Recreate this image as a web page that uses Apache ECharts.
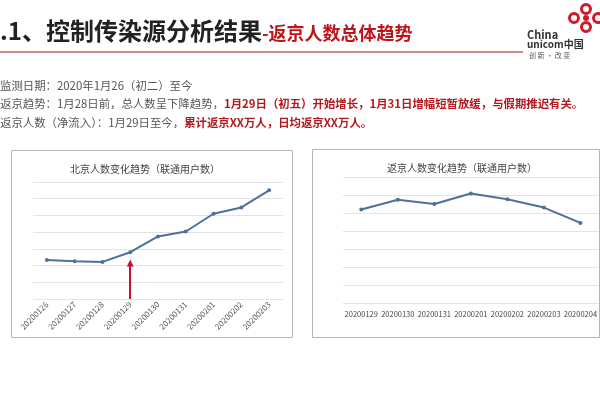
<!DOCTYPE html>
<html><head><meta charset="utf-8">
<script src="https://cdn.jsdelivr.net/npm/echarts@6/dist/echarts.min.js"></script>
<style>html,body{margin:0;padding:0;background:#fff}#c{width:600px;height:400px}</style>
</head><body><div id="c"></div>
<script>
const bjCats = ['20200126','20200127','20200128','20200129','20200130','20200131','20200201','20200202','20200203'];
const bjValues = [2.34, 2.26, 2.22, 2.8, 3.74, 4.04, 5.1, 5.48, 6.5];
const fjCats = ['20200129','20200130','20200131','20200201','20200202','20200203','20200204'];
const fjValues = [5.19, 5.74, 5.5, 6.08, 5.76, 5.3, 4.45];
const leftTitle = '北京人数变化趋势（联通用户数）';
const rightTitle = '返京人数变化趋势（联通用户数）';

const FONT = '"Noto Sans CJK SC", "Noto Sans", sans-serif';
const lineColor = '#4f7098';
const chart = echarts.init(document.getElementById('c'));

const txt = (x, y, text, rich, extra) => Object.assign({
  type: 'text', x: x, y: y,
  style: { text: text, rich: rich, fontFamily: FONT, verticalAlign: 'middle' }
}, extra || {});

const bodyRich = {
  g: { fontSize: 11.4, fill: '#555', fontFamily: FONT },
  r: { fontSize: 11.4, fill: '#b3191c', fontWeight: 'bold', fontFamily: FONT }
};

chart.setOption({
  backgroundColor: '#fff',
  animation: false,
  title: [
    { text: leftTitle, left: 140, top: 159, textAlign: 'center',
      textStyle: { fontSize: 10, fontWeight: 'normal', color: '#444', fontFamily: FONT } },
    { text: rightTitle, left: 457, top: 158, textAlign: 'center',
      textStyle: { fontSize: 10, fontWeight: 'normal', color: '#444', fontFamily: FONT } }
  ],
  grid: [
    { left: 33, right: 317, top: 182, bottom: 101 },
    { left: 343, right: 0, top: 177, bottom: 97 }
  ],
  xAxis: [
    { type: 'category', gridIndex: 0, data: bjCats, boundaryGap: true,
      axisLine: { show: false }, axisTick: { show: false },
      axisLabel: { rotate: 45, fontSize: 8, color: '#555', margin: 4, fontFamily: FONT, interval: 0 } },
    { type: 'category', gridIndex: 1, data: fjCats, boundaryGap: true,
      axisLine: { show: false }, axisTick: { show: false },
      axisLabel: { fontSize: 7.5, color: '#444', margin: 7, fontFamily: FONT, interval: 0 } }
  ],
  yAxis: [
    { type: 'value', gridIndex: 0, min: 0, max: 7, interval: 1,
      axisLabel: { show: false }, axisLine: { show: false }, axisTick: { show: false },
      splitLine: { lineStyle: { color: '#e3e3e3', width: 1 } } },
    { type: 'value', gridIndex: 1, min: 0, max: 7, interval: 1,
      axisLabel: { show: false }, axisLine: { show: false }, axisTick: { show: false },
      splitLine: { lineStyle: { color: '#e3e3e3', width: 1 } } }
  ],
  series: [
    { type: 'line', xAxisIndex: 0, yAxisIndex: 0, data: bjValues,
      symbol: 'circle', symbolSize: 4, lineStyle: { color: lineColor, width: 2 },
      itemStyle: { color: lineColor },
      markLine: {
        silent: true, symbol: ['none', 'triangle'], symbolSize: 7, label: { show: false },
        lineStyle: { color: '#c8102e', width: 2, type: 'solid' },
        data: [[{ coord: ['20200129', 0] }, { coord: ['20200129', 2.15] }]]
      } },
    { type: 'line', xAxisIndex: 1, yAxisIndex: 1, data: fjValues,
      symbol: 'circle', symbolSize: 4, lineStyle: { color: lineColor, width: 2 },
      itemStyle: { color: lineColor } }
  ],
  graphic: [
    // chart boxes
    { type: 'rect', shape: { x: 11.5, y: 150.5, width: 281, height: 187 },
      style: { fill: 'none', stroke: '#b5b5b5', lineWidth: 1 }, z: -1 },
    { type: 'rect', shape: { x: 312.5, y: 149.5, width: 287, height: 188 },
      style: { fill: 'none', stroke: '#b5b5b5', lineWidth: 1 }, z: -1 },
    // header
    txt(0, 31, '{b|.1、控制传染源分析结果}{r|-返京人数总体趋势}', {
      b: { fontSize: 24, fontWeight: 'bold', fill: '#222', fontFamily: FONT },
      r: { fontSize: 18, fontWeight: 'bold', fill: '#c0141b', fontFamily: FONT, padding: [4, 0, 0, 0] }
    }),
    { type: 'line', shape: { x1: 0, y1: 52, x2: 523, y2: 52 },
      style: { stroke: '#d08888', lineWidth: 2 } },
    // logo
    txt(527, 35, 'China', null, { style: { text: 'China', fontSize: 11, fill: '#333', fontFamily: FONT, fontWeight: 'bold', verticalAlign: 'middle' } }),
    txt(527, 44, 'unicom中国', null, { style: { text: 'unicom中国', fontSize: 10, fill: '#333', fontFamily: FONT, fontWeight: 'bold', verticalAlign: 'middle' } }),
    txt(529, 55, '创 新 · 改 变', null, { style: { text: '创 新 · 改 变', fontSize: 7, fill: '#555', fontFamily: FONT, verticalAlign: 'middle' } }),
    { type: 'ring', shape: { cx: 574, cy: 18, r: 6, r0: 3 }, style: { fill: '#d3182a' } },
    { type: 'ring', shape: { cx: 586, cy: 9, r: 6, r0: 3 }, style: { fill: '#d3182a' } },
    { type: 'ring', shape: { cx: 586, cy: 27, r: 6, r0: 3 }, style: { fill: '#d3182a' } },
    { type: 'ring', shape: { cx: 598, cy: 18, r: 6, r0: 3 }, style: { fill: '#d3182a' } },
    { type: 'circle', shape: { cx: 586, cy: 18, r: 3 }, style: { fill: '#d3182a' } },
    // body text
    txt(0, 86, '{g|监测日期：2020年1月26（初二）至今}', bodyRich),
    txt(0, 104, '{g|返京趋势：1月28日前，总人数呈下降趋势，}{r|1月29日（初五）开始增长，1月31日增幅短暂放缓，与假期推迟有关。}', bodyRich),
    txt(0, 123, '{g|返京人数（净流入）：1月29日至今，}{r|累计返京XX万人，日均返京XX万人。}', bodyRich)
  ]
});
</script></body></html>
